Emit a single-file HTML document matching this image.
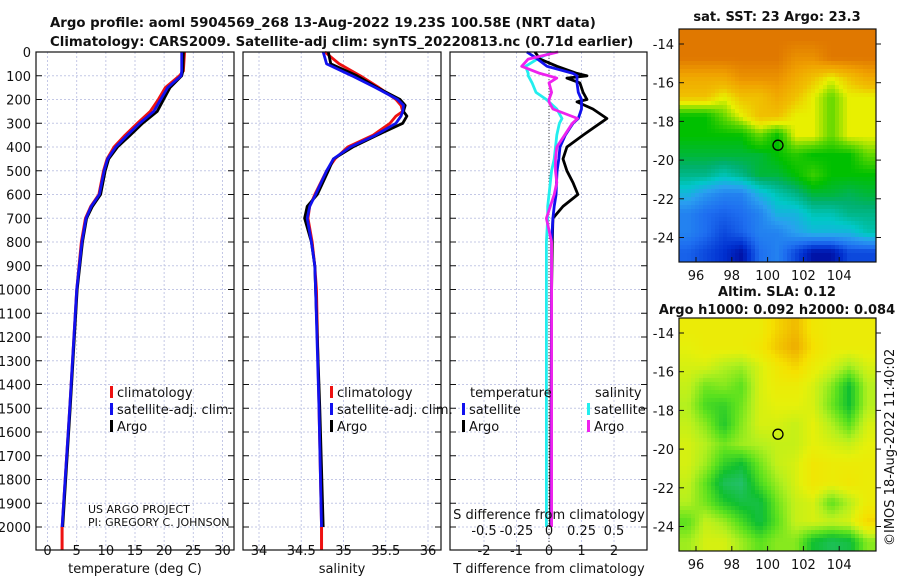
<!DOCTYPE html>
<html><head><meta charset="utf-8"><style>
body{margin:0;background:#fff}
svg text{font-family:"DejaVu Sans","Liberation Sans",sans-serif;fill:#111}
</style></head><body>
<svg id="fig" width="900" height="580" viewBox="0 0 900 580" xmlns="http://www.w3.org/2000/svg">
<text x="50" y="27" font-size="13.3" font-weight="bold">Argo profile: aoml 5904569_268 13-Aug-2022 19.23S 100.58E (NRT data)</text>
<text x="50" y="46" font-size="13.3" font-weight="bold">Climatology: CARS2009. Satellite-adj clim: synTS_20220813.nc (0.71d earlier)</text>
<g id="grids"></g><g id="series"></g><g id="frames"></g>
<text x="777" y="21" font-size="13" font-weight="bold" text-anchor="middle">sat. SST: 23 Argo: 23.3</text>
<text x="777" y="296" font-size="13" font-weight="bold" text-anchor="middle">Altim. SLA: 0.12</text>
<text x="777" y="314" font-size="13" font-weight="bold" text-anchor="middle">Argo h1000: 0.092 h2000: 0.084</text>
<text transform="translate(894,546) rotate(-90)" font-size="13">©IMOS 18-Aug-2022 11:40:02</text>
<text x="135" y="573" font-size="13" text-anchor="middle">temperature (deg C)</text>
<text x="342" y="573" font-size="13" text-anchor="middle">salinity</text>
<text x="549" y="573" font-size="13" text-anchor="middle">T difference from climatology</text>
<text x="549" y="519" font-size="13" text-anchor="middle">S difference from climatology</text>
<text x="88" y="513" font-size="11">US ARGO PROJECT</text>
<text x="88" y="526" font-size="11">PI: GREGORY C. JOHNSON</text>
</svg>
<script>
// ---- data ----
const depthTicks=[0,100,200,300,400,500,600,700,800,900,1000,1100,1200,1300,1400,1500,1600,1700,1800,1900,2000];
const tempTicks=[0,5,10,15,20,25,30];
const salTicks=[34,34.5,35,35.5,36];
const tdiffTicks=[-2,-1,0,1,2];
const sdiffTicks=[-0.5,-0.25,0,0.25,0.5];
const sdiffLabels=["-0.5","-0.25","0","0.25","0.5"];
const tDepth=[0,80,100,150,200,250,300,350,400,450,500,600,650,700,800,1000,1500,2000];
const tArgo=[23.3,23.2,23.0,21.0,19.9,18.8,16.3,14.2,12.0,10.5,9.9,9.1,7.7,6.7,6.0,5.1,3.9,2.6];
const tClim=[23.5,23.3,22.6,20.2,19.0,17.6,15.4,13.3,11.4,10.2,9.6,8.8,7.4,6.5,5.8,5.0,3.8,2.5];
const tSat=[23.0,23.0,22.9,20.6,19.4,18.2,15.8,13.7,11.7,10.3,9.7,8.9,7.5,6.6,5.9,5.0,3.8,2.5];
const sDepth=[0,50,100,150,200,225,250,270,300,350,400,450,500,600,650,700,800,900,1000,1500,2000];
const sArgo=[34.82,34.85,35.16,35.40,35.67,35.73,35.71,35.75,35.70,35.40,35.11,34.88,34.82,34.69,34.57,34.54,34.62,34.66,34.67,34.72,34.76];
const sClim=[34.78,34.95,35.20,35.42,35.62,35.68,35.70,35.62,35.55,35.35,35.05,34.90,34.80,34.66,34.60,34.58,34.63,34.66,34.68,34.71,34.74];
const sSat=[34.76,34.80,35.10,35.38,35.64,35.71,35.70,35.68,35.62,35.38,35.08,34.88,34.80,34.67,34.60,34.57,34.62,34.66,34.67,34.71,34.74];
const dDepth=[0,30,60,90,100,110,130,170,200,210,240,280,300,350,400,450,500,550,600,650,700,800,1000,2000];
const tdArgo=[-0.43,-0.28,0.25,0.86,1.17,0.55,0.95,1.05,1.17,0.86,1.35,1.78,1.57,1.05,0.55,0.43,0.55,0.74,0.89,0.43,0.12,0.10,0.08,0.05];
const tdSat=[-0.68,-0.35,-0.06,0.74,0.86,0.86,0.86,0.90,1.0,1.0,1.0,0.9,0.74,0.5,0.34,0.3,0.25,0.23,0.22,0.16,0.12,0.08,0.08,0.08];
const sdArgo=[0.07,-0.16,-0.21,-0.07,0.0,0.06,0.0,0.02,0.0,0.0,0.03,0.22,0.18,0.12,0.06,0.05,0.05,0.06,0.04,0.01,-0.02,0.02,0.02,0.02];
const sdSat=[0.02,-0.09,-0.18,-0.16,-0.16,-0.15,-0.13,-0.10,-0.02,0.0,0.06,0.10,0.08,0.06,0.05,0.04,0.02,0.01,0.0,-0.01,-0.01,-0.02,-0.02,-0.02];
const lonTicks=[96,98,100,102,104];
const latTicks=[-14,-16,-18,-20,-22,-24];
const argoLon=100.58, argoLat=-19.23;
const sstGrid=[
[26,26,26,26,26,26,26,26,26,26,26],
[26,26,26,26,26,26,25.5,25.5,26,26,26],
[25,25,25,25.5,25.5,25.5,25,24.5,24,24.5,25],
[24.5,24.5,24,24.5,24.5,25,24.5,24,23.5,24,24],
[23,23,23.5,24,24.5,24.5,24,24,23.5,24,24],
[23,23,23,23,23.5,23,24,24,23.5,24,24],
[22.8,22.8,22.8,22.8,22.8,23,23.2,23,23,23,23.5],
[22.5,22.5,22.3,22.5,22.8,22.8,23,23.3,23,23,23],
[22,21.7,21.5,21.5,22,22.3,22.5,22.8,22.8,22.7,22.8],
[21.5,21.3,21.2,21.3,21.5,22,22,22.3,22.3,22.5,22.5],
[21.5,21.3,21,21.2,21.5,21.5,21.8,22,22,22,22.3],
[21.2,21,20.8,20.5,21.3,21.5,21,20.5,20.5,21,21]];
const slaGrid=[
[.12,.12,.12,.12,.12,.15,.17,.13,.12,.12,.12],
[.11,.12,.12,.12,.13,.16,.18,.14,.12,.12,.12],
[.10,.10,.08,.07,.10,.13,.15,.12,.10,.07,.10],
[.09,.05,.06,.04,.10,.12,.12,.10,.06,.0,.08],
[.08,.03,.02,.05,.10,.11,.11,.10,.05,.0,.08],
[.09,.06,.01,.06,.10,.10,.09,.11,.08,.04,.10],
[.10,.08,.05,.07,.08,.09,.09,.11,.10,.09,.11],
[.10,.07,.02,0,.05,.09,.10,.13,.12,.12,.12],
[.09,.04,-.02,-.03,.03,.07,.10,.13,.12,.13,.12],
[.08,.05,.01,-.01,-.01,.05,.09,.10,.04,.08,.12],
[.04,.09,.07,.03,-.01,.04,.09,.10,.09,.10,.15],
[.07,.10,.10,.07,.04,.06,.06,0,-.02,-.01,.06]];
// ---- rendering ----
const NS="http://www.w3.org/2000/svg";
const svg=document.getElementById('fig');
const G=document.getElementById('grids'),S=document.getElementById('series'),F=document.getElementById('frames');
function mk(tag,attrs,parent){const e=document.createElementNS(NS,tag);for(const k in attrs)e.setAttribute(k,attrs[k]);(parent||svg).appendChild(e);return e;}
const yD=d=>52+d*0.2375;
const xT=t=>47.5+t*5.833, xS=s=>259+(s-34)*84.5, xTd=v=>549+v*32.5, xSd=v=>549+v*130;
const TOP=52,BOT=550;
const panels=[{x0:36,x1:234,f:xT,ticks:tempTicks,name:'temperature'},{x0:243,x1:441,f:xS,ticks:salTicks,name:'salinity'},{x0:450,x1:647,f:xTd,ticks:tdiffTicks,name:'tdiff'}];
panels.forEach((p,pi)=>{
  depthTicks.forEach(d=>{const y=yD(d);
    let l=mk('line',{x1:p.x0,x2:p.x1,y1:y,y2:y,stroke:'#c4c8e6','stroke-width':1,'stroke-dasharray':'2,2'},G);
    
    let t1=mk('line',{x1:p.x0,x2:p.x0+6,y1:y,y2:y,stroke:'#111'},F);
    let t2=mk('line',{x1:p.x1-6,x2:p.x1,y1:y,y2:y,stroke:'#111'},F);
    if(pi==0){let tx=mk('text',{x:31,y:y+5,'font-size':13,'text-anchor':'end'},F);tx.textContent=d;}
  });
  p.ticks.forEach(v=>{const x=p.f(v);
    let l=mk('line',{x1:x,x2:x,y1:TOP,y2:BOT,stroke:'#c4c8e6','stroke-width':1,'stroke-dasharray':'2,2'},G);
    
    let tx=mk('text',{x:x,y:555,'font-size':13,'text-anchor':'middle'},F);tx.textContent=v;
    
  });
  let r=mk('rect',{x:p.x0,y:TOP,width:p.x1-p.x0,height:BOT-TOP,fill:'none',stroke:'#111','stroke-width':1.2},F);
  
});
sdiffTicks.forEach((v,i)=>{let tx=mk('text',{x:xSd(v),y:535,'font-size':13,'text-anchor':'middle'},F);tx.textContent=sdiffLabels[i];
  });
let zl=mk('line',{x1:xTd(0),x2:xTd(0),y1:TOP,y2:BOT,stroke:'#444','stroke-width':1,'stroke-dasharray':'1,2'},G);

function line(depths,vals,fx,color,name){
  const pts=depths.map((d,i)=>fx(vals[i]).toFixed(1)+','+yD(d).toFixed(1)).join(' ');
  const e=mk('polyline',{points:pts,fill:'none',stroke:color,'stroke-width':2.8,'stroke-linejoin':'round'},S);
  
}
line(tDepth,tClim,xT,'#ee1111','temperature-climatology-line');
line(tDepth,tArgo,xT,'#000','temperature-argo-line');
line(tDepth,tSat,xT,'#1111ee','temperature-satellite-line');
line(sDepth,sClim,xS,'#ee1111','salinity-climatology-line');
line(sDepth,sArgo,xS,'#000','salinity-argo-line');
line(sDepth,sSat,xS,'#1111ee','salinity-satellite-line');
line(dDepth,sdSat,xSd,'#22eeee','sdiff-satellite-line');
line(dDepth,tdArgo,xTd,'#000','tdiff-argo-line');
line(dDepth,tdSat,xTd,'#1111ee','tdiff-satellite-line');
line(dDepth,sdArgo,xSd,'#ee22ee','sdiff-argo-line');
let st1=mk('line',{x1:xT(tClim[tClim.length-1]),x2:xT(tClim[tClim.length-1]),y1:yD(2000),y2:BOT,stroke:'#ee1111','stroke-width':3},S);
let st2=mk('line',{x1:xS(sClim[sClim.length-1]),x2:xS(sClim[sClim.length-1]),y1:yD(2000),y2:BOT,stroke:'#ee1111','stroke-width':3},S);
function leg(x,y,color,label,name){
  let m=mk('rect',{x:x,y:y-11,width:3,height:12,fill:color},F);
  let t=mk('text',{x:x+7,y:y,'font-size':13},F);t.textContent=label;
}
leg(110,397,'#ee1111','climatology','legend-entry-climatology');
leg(110,414,'#1111ee','satellite-adj. clim.','legend-entry-satellite');
leg(110,431,'#000','Argo','legend-entry-argo');
leg(330,397,'#ee1111','climatology','legend-entry-climatology-s');
leg(330,414,'#1111ee','satellite-adj. clim.','legend-entry-satellite-s');
leg(330,431,'#000','Argo','legend-entry-argo-s');
let th=mk('text',{x:470,y:397,'font-size':13},F);th.textContent='temperature';
let sh=mk('text',{x:595,y:397,'font-size':13},F);sh.textContent='salinity';
leg(462,414,'#1111ee','satellite','legend-entry-tdiff-satellite');
leg(462,431,'#000','Argo','legend-entry-tdiff-argo');
leg(587,414,'#22eeee','satellite','legend-entry-sdiff-satellite');
leg(587,431,'#ee22ee','Argo','legend-entry-sdiff-argo');
const sstStops=[[20.3,[0,0,140]],[20.8,[0,48,208]],[21.3,[30,110,240]],[21.8,[42,160,240]],[22.2,[0,200,200]],[22.6,[0,176,112]],[23.0,[0,192,0]],[23.5,[96,216,0]],[24,[232,240,0]],[24.5,[240,192,0]],[25.2,[240,160,0]],[26,[224,120,0]]];
const slaStops=[[-0.05,[48,192,144]],[0,[16,192,48]],[0.04,[90,225,30]],[0.08,[180,240,30]],[0.11,[230,240,10]],[0.14,[245,225,0]],[0.17,[240,185,0]],[0.2,[232,144,0]]];
function cmap(stops,v){if(v<=stops[0][0])return stops[0][1];for(let i=1;i<stops.length;i++){if(v<=stops[i][0]){const a=stops[i-1],b=stops[i],t=(v-a[0])/(b[0]-a[0]);return a[1].map((c,k)=>Math.round(c+(b[1][k]-c)*t));}}return stops[stops.length-1][1];}
function drawMap(y0,grid,stops,name){
  const x0=679,x1=876,y1=y0+233;
  const lon=x=>x0+(x-95.05)*17.9, lat=v=>y0+15+(-14-v)*19.35;
  const g=mk('g',{},svg);
  const R=grid.length,C=grid[0].length,cs=4;
  for(let py=y0;py<y1;py+=cs){for(let px=x0;px<x1;px+=cs){
    const gx=Math.min(Math.max((px+cs/2-x0)/(x1-x0)*C-0.5,0),C-1),gy=Math.min(Math.max((py+cs/2-y0)/(y1-y0)*R-0.5,0),R-1);
    const i0=Math.floor(gx),j0=Math.floor(gy),i1=Math.min(i0+1,C-1),j1=Math.min(j0+1,R-1),fx=gx-i0,fy=gy-j0;
    const v=grid[j0][i0]*(1-fx)*(1-fy)+grid[j0][i1]*fx*(1-fy)+grid[j1][i0]*(1-fx)*fy+grid[j1][i1]*fx*fy;
    const c=cmap(stops,v);
    const r=mk('rect',{x:px,y:py,width:Math.min(cs,x1-px),height:Math.min(cs,y1-py),fill:'rgb('+c.join(',')+')'},g);
    
  }}
  const fr=mk('rect',{x:x0,y:y0,width:x1-x0,height:y1-y0,fill:'none',stroke:'#111','stroke-width':1.2},g);
  
  lonTicks.forEach(v=>{const x=lon(v);
    let t=mk('line',{x1:x,x2:x,y1:y1,y2:y1-5,stroke:'#111'},g);
    let tx=mk('text',{x:x,y:y1+18,'font-size':13,'text-anchor':'middle'},g);tx.textContent=v;});
  latTicks.forEach(v=>{const y=lat(v);
    let t=mk('line',{x1:x0,x2:x0+5,y1:y,y2:y,stroke:'#111'},g);
    let t2=mk('line',{x1:x1,x2:x1+5,y1:y,y2:y,stroke:'#111'},g);
    let tx=mk('text',{x:674,y:y+5,'font-size':13,'text-anchor':'end'},g);tx.textContent=v;});
  const c=mk('circle',{cx:lon(argoLon),cy:lat(argoLat),r:5,fill:'none',stroke:'#000','stroke-width':1.3},g);
  
}
drawMap(29,sstGrid,sstStops,'sst-map');
drawMap(318,slaGrid,slaStops,'sla-map');
</script>
</body></html>
